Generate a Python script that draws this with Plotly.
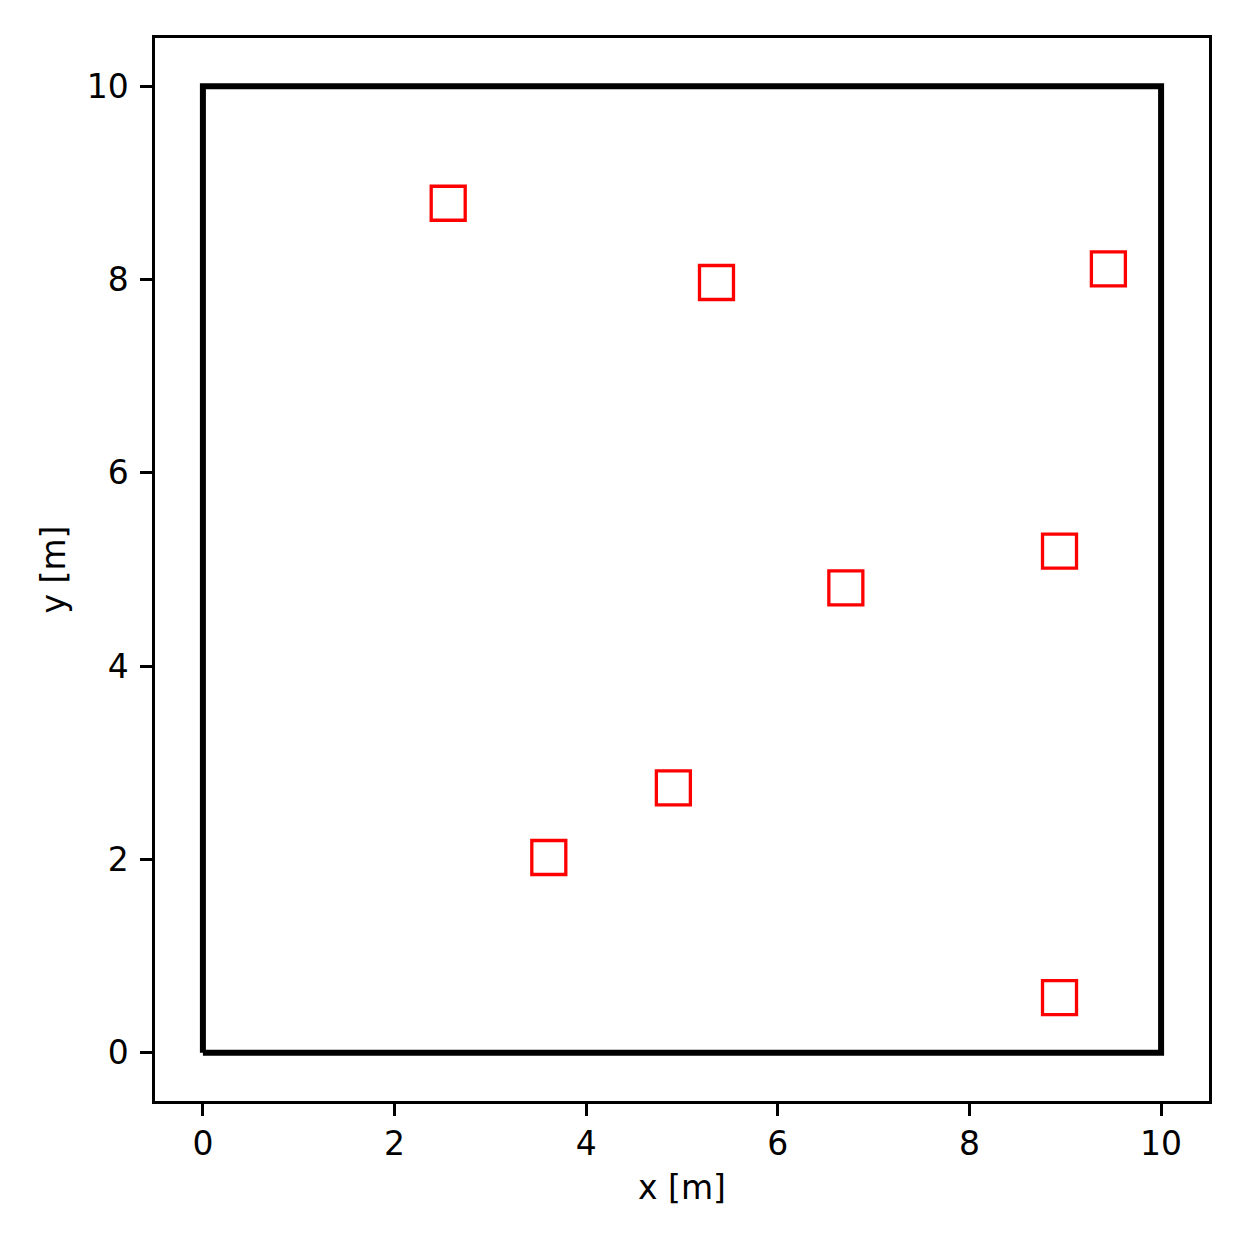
import plotly.graph_objects as go

# room outline (m)
room_x = [0, 10, 10, 0, 0]
room_y = [0, 0, 10, 10, 0]

# square markers (m)
pts_x = [2.56, 5.36, 9.45, 8.94, 6.71, 4.91, 3.61, 8.94]
pts_y = [8.79, 7.97, 8.11, 5.19, 4.81, 2.74, 2.02, 0.57]

tick_vals = [0, 2, 4, 6, 8, 10]

fig = go.Figure()

fig.add_trace(go.Scatter(
    x=room_x, y=room_y,
    mode='lines',
    line=dict(color='black', width=6),
    showlegend=False
))

fig.add_trace(go.Scatter(
    x=pts_x, y=pts_y,
    mode='markers',
    marker=dict(symbol='square-open', size=34, color='red',
                line=dict(color='red', width=3.3)),
    showlegend=False
))

axis_style = dict(
    showgrid=False, zeroline=False,
    showline=True, linecolor='black', linewidth=2.5, mirror=True,
    ticks='outside', ticklen=12, tickwidth=2.5, tickcolor='black',
    tickvals=tick_vals,
    tickfont=dict(size=33, color='black'),
    title_font=dict(size=33, color='black'),
)

fig.update_layout(
    width=1230, height=1230,
    margin=dict(l=147, r=29, t=30, b=137),
    paper_bgcolor='white',
    plot_bgcolor='white',
    font=dict(family='DejaVu Sans', color='black'),
    xaxis=dict(range=[-0.5, 10.5], title=dict(text='x [m]', standoff=14),
               ticklabelstandoff=0, **axis_style),
    yaxis=dict(range=[-0.5, 10.5], title=dict(text='y [m]', standoff=12),
               ticklabelstandoff=5, **axis_style),
)

fig.write_html("out.html")
